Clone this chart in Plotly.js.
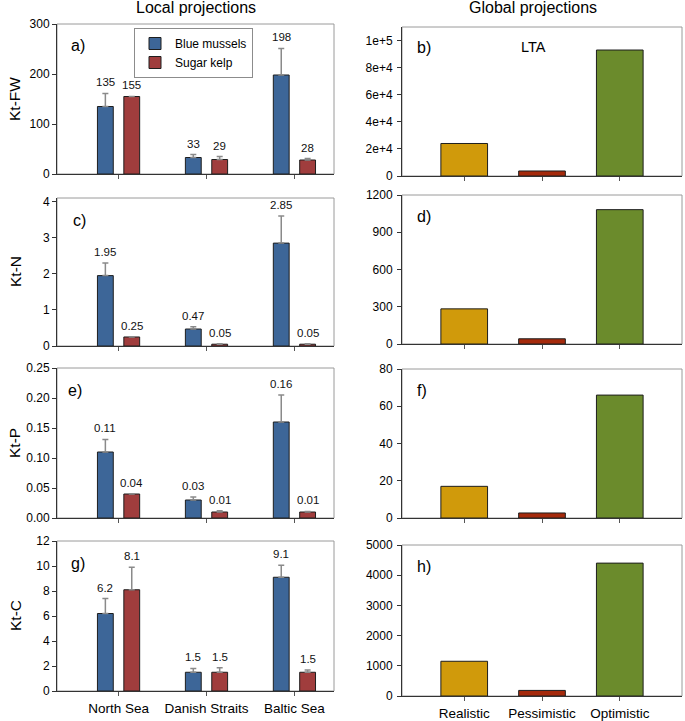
<!DOCTYPE html>
<html>
<head>
<meta charset="utf-8">
<script src="https://cdn.plot.ly/plotly-3.0.1.min.js"></script>
<style>html,body{margin:0;padding:0;background:#fff}#chart{width:685px;height:721px}</style>
</head>
<body>
<div id="chart"></div>
<script>
// ---------- data ----------
const regions = ['North Sea', 'Danish Straits', 'Baltic Sea'];
const species = ['Blue mussels', 'Sugar kelp'];
const scenarios = ['Realistic', 'Pessimistic', 'Optimistic'];

const fwMussels = [135, 33, 198];
const fwMusselsErr = [26, 6, 53];
const fwKelp = [155, 29, 28];
const fwKelpErr = [0, 6, 3];

const nMussels = [1.95, 0.47, 2.85];
const nMusselsErr = [0.35, 0.06, 0.75];
const nKelp = [0.25, 0.05, 0.05];
const nKelpErr = [0, 0.01, 0.01];

const pMussels = [0.11, 0.03, 0.16];
const pMusselsErr = [0.021, 0.005, 0.045];
const pKelp = [0.04, 0.01, 0.01];
const pKelpErr = [0, 0.002, 0.001];

const cMussels = [6.2, 1.5, 9.1];
const cMusselsErr = [1.2, 0.31, 0.96];
const cKelp = [8.1, 1.5, 1.5];
const cKelpErr = [1.8, 0.36, 0.18];

const globalFW = [24000, 3700, 93000];
const globalN = [283, 42, 1082];
const globalP = [17, 2.7, 66];
const globalC = [1150, 185, 4400];

const fwTickVals = [0, 20000, 40000, 60000, 80000, 100000];
const fwTickText = ['0', '2e+4', '4e+4', '6e+4', '8e+4', '1e+5'];

// ---------- styling ----------
const FONT = 'Liberation Sans, Arial, sans-serif';
const W = 685, H = 721;
const speciesColors = ['#3D6698', '#A03D3D'];
const scenarioColors = ['#D09A0B', '#A52A0C', '#6B8B2C'];
const BARGAP = 0.4, BARGROUPGAP = 0.4;

const leftPanels = [
  {n: 1, mus: fwMussels, musErr: fwMusselsErr, kelp: fwKelp, kelpErr: fwKelpErr, dec: 0,
   range: [0, 300], dtick: 100, fmt: '', title: 'Kt-FW', letter: 'a)', top: 24, bottom: 174, dx: 12},
  {n: 3, mus: nMussels, musErr: nMusselsErr, kelp: nKelp, kelpErr: nKelpErr, dec: 2,
   range: [0, 4.1], dtick: 1, fmt: '', title: 'Kt-N', letter: 'c)', top: 198, bottom: 346, dx: 14},
  {n: 5, mus: pMussels, musErr: pMusselsErr, kelp: pKelp, kelpErr: pKelpErr, dec: 2,
   range: [0, 0.25], dtick: 0.05, fmt: '.2f', title: 'Kt-P', letter: 'e)', top: 368, bottom: 518, dx: 9},
  {n: 7, mus: cMussels, musErr: cMusselsErr, kelp: cKelp, kelpErr: cKelpErr, dec: 1,
   range: [0, 12], dtick: 2, fmt: '', title: 'Kt-C', letter: 'g)', top: 541, bottom: 691, dx: 12}
];
const rightPanels = [
  {n: 2, vals: globalFW, range: [0, 110000], tickvals: fwTickVals, ticktext: fwTickText, letter: 'b)', top: 27, bottom: 176},
  {n: 4, vals: globalN, range: [0, 1200], dtick: 300, letter: 'd)', top: 195, bottom: 344},
  {n: 6, vals: globalP, range: [0, 80], dtick: 20, letter: 'f)', top: 369, bottom: 518},
  {n: 8, vals: globalC, range: [0, 5000], dtick: 1000, letter: 'h)', top: 545, bottom: 696}
];

const traces = [];
const annotations = [];
const shapes = [];
const layout = {
  width: W, height: H,
  margin: {l: 0, r: 0, t: 0, b: 0},
  paper_bgcolor: '#ffffff', plot_bgcolor: 'rgba(0,0,0,0)',
  barmode: 'group', bargap: BARGAP, bargroupgap: BARGROUPGAP,
  font: {family: FONT, size: 12, color: '#000'},
  showlegend: true,
  legend: {x: 134 / W, y: 1 - 28 / H, xanchor: 'left', yanchor: 'top',
           bordercolor: '#8c8c8c', borderwidth: 1, bgcolor: '#fff',
           font: {family: FONT, size: 12, color: '#000'}, tracegroupgap: 0},
  annotations: annotations, shapes: shapes
};

function axName(prefix, n) { return n === 1 ? prefix + 'axis' : prefix + 'axis' + n; }
function axRef(prefix, n) { return n === 1 ? prefix : prefix + n; }

const leftDom = [57 / W, 334 / W];
const rightDom = [402 / W, 682 / W];
const groupOff = (1 - BARGAP) / 4;

function baseX(n, dom, range, showLabels) {
  return {
    domain: dom, range: range, type: 'category', anchor: axRef('y', n),
    showline: true, linecolor: '#333', linewidth: 1, mirror: false,
    showgrid: false, zeroline: false, ticks: 'outside', ticklen: 4, tickcolor: '#555',
    showticklabels: showLabels, ticklabelstandoff: 1,
    tickfont: {family: FONT, size: 13.5, color: '#000'}, fixedrange: true
  };
}
function baseY(n, top, bottom, range) {
  return {
    domain: [1 - bottom / H, 1 - top / H], range: range, anchor: axRef('x', n),
    showline: true, linecolor: '#333', linewidth: 1, mirror: false,
    showgrid: false, zeroline: false, ticks: 'outside', ticklen: 4, tickcolor: '#333',
    tickfont: {family: FONT, size: 12, color: '#000'}, fixedrange: true
  };
}
function box(n) {
  shapes.push({type: 'rect', xref: axRef('x', n) + ' domain', yref: axRef('y', n) + ' domain',
    x0: 0, x1: 1, y0: 0, y1: 1, line: {color: '#9a9a9a', width: 1}, layer: 'below'});
}

leftPanels.forEach((p, k) => {
  const xa = axRef('x', p.n), ya = axRef('y', p.n);
  const series = [[p.mus, p.musErr], [p.kelp, p.kelpErr]];
  series.forEach((s, j) => {
    traces.push({
      type: 'bar', x: regions, y: s[0], name: species[j], xaxis: xa, yaxis: ya,
      legendgroup: species[j], showlegend: k === 0,
      marker: {color: speciesColors[j], line: {color: '#1e1e1e', width: 1}},
      error_y: {type: 'data', symmetric: false, array: s[1], arrayminus: s[1].map(() => 0),
                color: '#8a8a8a', thickness: 1.5, width: 3},
      hoverinfo: 'skip'
    });
    s[0].forEach((v, i) => {
      annotations.push({
        xref: xa, yref: ya, x: i + (j === 0 ? -groupOff : groupOff), y: v + s[1][i],
        text: v.toFixed(p.dec), showarrow: false, yanchor: 'bottom', yshift: 3,
        font: {family: FONT, size: 11.5, color: '#111'}
      });
    });
  });
  layout[axName('x', p.n)] = baseX(p.n, leftDom, [-0.7, 2.45], p.n === 7);
  const y = baseY(p.n, p.top, p.bottom, p.range);
  y.dtick = p.dtick; y.tick0 = 0;
  if (p.fmt) y.tickformat = p.fmt;
  layout[axName('y', p.n)] = y;
  box(p.n);
  annotations.push({xref: xa + ' domain', yref: ya + ' domain', x: 0, y: 1, xshift: p.dx, yshift: -22,
    xanchor: 'left', yanchor: 'middle', text: p.letter, showarrow: false,
    font: {family: FONT, size: 16, color: '#000'}});
  annotations.push({xref: 'paper', yref: 'paper', x: 15 / W, y: 1 - (p.top + p.bottom) / 2 / H,
    xanchor: 'center', yanchor: 'middle', textangle: -90, text: p.title, showarrow: false,
    font: {family: FONT, size: 15.5, color: '#000'}});
});

rightPanels.forEach((p) => {
  const xa = axRef('x', p.n), ya = axRef('y', p.n);
  traces.push({
    type: 'bar', x: scenarios, y: p.vals, xaxis: xa, yaxis: ya, showlegend: false,
    width: 1 - BARGAP,
    marker: {color: scenarioColors, line: {color: '#1e1e1e', width: 1}}, hoverinfo: 'skip'
  });
  const x = baseX(p.n, rightDom, [-0.8, 2.8], p.n === 8);
  layout[axName('x', p.n)] = x;
  const y = baseY(p.n, p.top, p.bottom, p.range);
  y.ticklabelstandoff = 2;
  if (p.tickvals) { y.tickmode = 'array'; y.tickvals = p.tickvals; y.ticktext = p.ticktext; }
  else { y.dtick = p.dtick; y.tick0 = 0; }
  layout[axName('y', p.n)] = y;
  box(p.n);
  annotations.push({xref: xa + ' domain', yref: ya + ' domain', x: 0, y: 1, xshift: 13, yshift: -21,
    xanchor: 'left', yanchor: 'middle', text: p.letter, showarrow: false,
    font: {family: FONT, size: 16, color: '#000'}});
});

annotations.push({xref: 'x2 domain', yref: 'y2 domain', x: 0.47, y: 1, yshift: -20,
  xanchor: 'center', yanchor: 'middle', text: 'LTA', showarrow: false,
  font: {family: FONT, size: 14.5, color: '#000'}});
annotations.push({xref: 'paper', yref: 'paper', x: 196 / W, y: 1 - 8 / H, xanchor: 'center', yanchor: 'middle',
  text: 'Local projections', showarrow: false, font: {family: FONT, size: 16, color: '#000'}});
annotations.push({xref: 'paper', yref: 'paper', x: 533 / W, y: 1 - 8 / H, xanchor: 'center', yanchor: 'middle',
  text: 'Global projections', showarrow: false, font: {family: FONT, size: 16, color: '#000'}});

Plotly.newPlot('chart', traces, layout, {staticPlot: true, displayModeBar: false});
</script>
</body>
</html>
